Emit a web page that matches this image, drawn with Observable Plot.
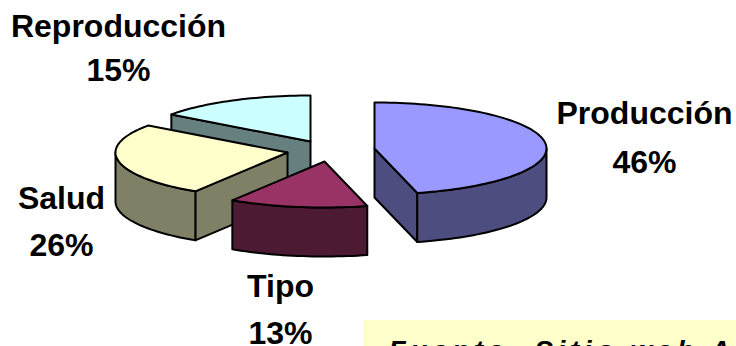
<!DOCTYPE html>
<html>
<head>
<meta charset="utf-8">
<script src="https://cdn.jsdelivr.net/npm/d3@7"></script>
<script src="https://cdn.jsdelivr.net/npm/@observablehq/plot@0.6"></script>
<style>
  html, body { margin: 0; padding: 0; background: #fff; overflow: hidden; }
  svg { display: block; }
</style>
</head>
<body>
<script>
// Share of each category, in pie order (clockwise from 12 o'clock)
const categories = ["Producción", "Tipo", "Salud", "Reproducción"];
const shares = [46, 13, 26, 15];
const topColors = ["#9999ff", "#993366", "#ffffcc", "#ccffff"];
const sideColors = ["#4d4d80", "#4d1a33", "#808066", "#668080"];
const source = "Fuente: Sitio web A";

// Exploded centre of each slice and the projection of the tilted pie
const centers = [[374, 148], [324, 161], [287, 152], [310, 141]];
const labelAt = [[644, 113, 162], [280, 286, 333], [61, 198, 245], [118, 26, 70]];
const rx = 172, ry = 46, depth = 49;
const paintOrder = [3, 2, 1, 0];

const total = d3.sum(shares);
let running = 0;
const slices = shares.map((v, i) => {
  const a0 = running / total * 2 * Math.PI;
  running += v;
  return {i, a0, a1: running / total * 2 * Math.PI, c: centers[i]};
});

const onRim = (s, a, dy = 0) => ({
  x: s.c[0] + rx * Math.sin(a),
  y: s.c[1] - ry * Math.cos(a) + dy
});
const arc = (s, a0, a1, dy = 0) => {
  const n = Math.max(2, Math.ceil((a1 - a0) / 0.03));
  return d3.range(n + 1).map(k => onRim(s, a0 + (a1 - a0) * k / n, dy));
};
const apex = (s, dy = 0) => ({x: s.c[0], y: s.c[1] + dy});

// Faces of one slice, back to front: cut faces, outer wall, top
function faces(s) {
  const out = [];
  const add = (pts, fill) => out.push({fill, pts: [...pts, pts[0]]});
  const side = sideColors[s.i], top = topColors[s.i];
  const cut = a => [apex(s), onRim(s, a), onRim(s, a, depth), apex(s, depth)];
  const wall = (a0, a1) => [...arc(s, a0, a1), ...arc(s, a0, a1, depth).reverse()];
  // a radial cut shows only when its outward side points toward the viewer
  if (Math.sin(s.a0) < -1e-9) add(cut(s.a0), side);
  if (Math.sin(s.a1) > 1e-9) add(cut(s.a1), side);
  const w0 = Math.max(s.a0, Math.PI / 2), w1 = Math.min(s.a1, 3 * Math.PI / 2);
  if (w1 > w0) add(wall(w0, w1), side);
  add([apex(s), ...arc(s, s.a0, s.a1)], top);
  return out;
}

const polygons = paintOrder.flatMap(i => faces(slices[i]));
const rows = polygons.flatMap((p, id) => p.pts.map(q => ({...q, id, fill: p.fill})));

const labels = categories.flatMap((name, i) => [
  {text: name, x: labelAt[i][0], y: labelAt[i][1]},
  {text: `${shares[i]}%`, x: labelAt[i][0], y: labelAt[i][2]}
]);

const chart = Plot.plot({
  width: 736,
  height: 346,
  margin: 0,
  style: {background: "#fff", overflow: "hidden"},
  x: {domain: [0, 736], range: [0, 736], axis: null},
  y: {domain: [0, 346], range: [0, 346], axis: null},
  color: {type: "identity"},
  marks: [
    Plot.rect([{x1: 364, x2: 736, y1: 320, y2: 346}], {
      x1: "x1", x2: "x2", y1: "y1", y2: "y2", fill: "#ffffcc"
    }),
    Plot.line(rows, {
      x: "x", y: "y", z: "id", fill: "fill", stroke: "#000",
      strokeWidth: 2, strokeLinejoin: "round", curve: "linear"
    }),
    Plot.text(labels, {
      x: "x", y: "y", text: "text", textAnchor: "middle",
      fontFamily: "Liberation Sans", fontWeight: "bold", fontSize: 32, fill: "#000"
    }),
    Plot.text([source], {
      x: () => 388, y: () => 351, text: d => d, textAnchor: "start",
      fontFamily: "Liberation Sans", fontWeight: "bold", fontStyle: "italic",
      fontSize: 28, fill: "#000"
    })
  ]
});

// The source note runs in wide-tracked type
d3.select(chart).selectAll("text")
  .filter(function () { return this.textContent === source; })
  .style("letter-spacing", "4.6px");

document.body.appendChild(chart);
</script>
</body>
</html>
